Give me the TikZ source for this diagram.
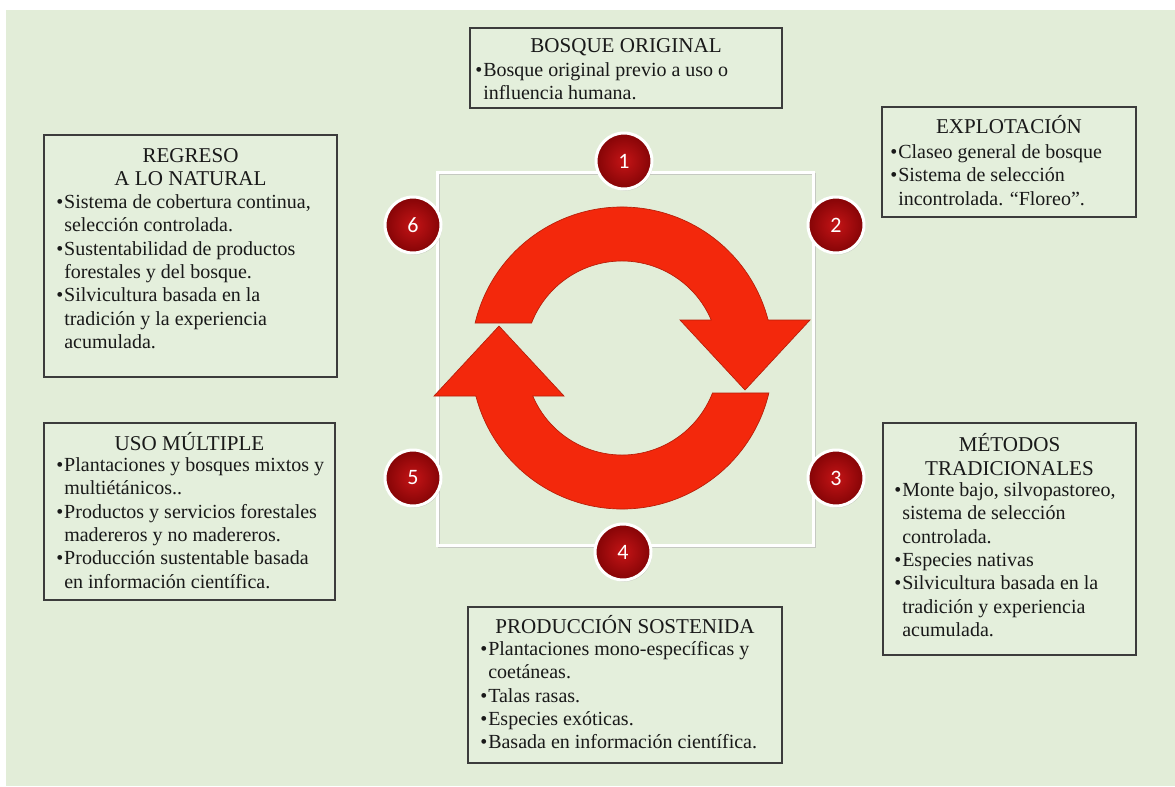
\documentclass[tikz,border=0pt]{standalone}
\usepackage{fontspec}
\setmainfont{Liberation Serif}
\newfontfamily\numfont{Carlito}
\usetikzlibrary{fit,shadows}
\definecolor{bggreen}{RGB}{226,237,216}
\definecolor{boxfill}{RGB}{228,239,220}
\definecolor{boxline}{RGB}{60,60,60}
\definecolor{txt}{RGB}{25,25,25}
\definecolor{arrowred}{RGB}{243,40,12}
\definecolor{circin}{RGB}{196,20,22}
\definecolor{circout}{RGB}{132,4,6}
\newcommand{\bul}{\makebox[6pt][l]{\textbullet}}
\newcommand{\ind}{\hspace*{6pt}}
\tikzset{
 panel/.style={draw=boxline, line width=1.1pt, fill=boxfill, inner sep=0pt},
 ttl/.style={font=\fontsize{15.8}{17.6}\selectfont, text=txt, align=center, inner sep=0pt, anchor=north},
 body/.style={font=\fontsize{15}{17.6}\selectfont, text=txt, align=left, inner sep=0pt, anchor=north west},
 badge/.style={circle, minimum size=42pt, inner sep=0pt, draw=white, line width=2.25pt, inner color=circin, outer color=circout, text=white, font=\numfont\fontsize{16.5}{18}\selectfont, drop shadow={opacity=0.35, shadow xshift=0.8pt, shadow yshift=-1.2pt}},
 cyc/.style={fill=arrowred, draw=arrowred!75!black, line width=0.5pt, line join=miter},
 frame/.style={draw=white, line width=2.25pt, inner sep=0pt},
}
\begin{document}
\begin{tikzpicture}[x=0.75pt,y=-0.75pt]
\useasboundingbox (0,0) rectangle (1175,786);
\fill[white] (0,0) rectangle (1175,786);
\fill[bggreen] (6,10) rectangle (1175,786);

% panels
\node[panel, fit={(470,28) (782,108)}] (b1) {};
\node[panel, fit={(882,107) (1136,217)}] (b2) {};
\node[panel, fit={(883,423) (1136,655)}] (b3) {};
\node[panel, fit={(468,607) (782,763)}] (b4) {};
\node[panel, fit={(44,423) (335,600)}] (b5) {};
\node[panel, fit={(44,135) (337,377)}] (b6) {};

% titles
\node[ttl] (t1) at (626,35.4) {\strut BOSQUE ORIGINAL};
\node[ttl] (t2) at (1009,115.4) {\strut EXPLOTACIÓN};
\node[ttl] (t3) at (1009.5,433.4) {\strut MÉTODOS\\\strut TRADICIONALES};
\node[ttl] (t4) at (625,615.4) {\strut PRODUCCIÓN SOSTENIDA};
\node[ttl] (t5) at (189.5,432.4) {\strut USO MÚLTIPLE};
\node[ttl] (t6) at (190.5,145.4) {\strut REGRESO\\\strut A LO NATURAL};

% bodies
\node[body] (c1) at (475,59.4) {\strut\bul Bosque original previo a uso o\\\strut\ind influencia humana.};
\node[body] (c2) at (890,141.4) {\strut\bul Claseo general de bosque\\\strut\bul Sistema de selección\\\strut\ind incontrolada. “Floreo”.};
\node[body] (c3) at (894,479.4) {\strut\bul Monte bajo, silvopastoreo,\\\strut\ind sistema de selección\\\strut\ind controlada.\\\strut\bul Especies nativas\\\strut\bul Silvicultura basada en la\\\strut\ind tradición y experiencia\\\strut\ind acumulada.};
\node[body] (c4) at (480,638.4) {\strut\bul Plantaciones mono-específicas y\\\strut\ind coetáneas.\\\strut\bul Talas rasas.\\\strut\bul Especies exóticas.\\\strut\bul Basada en información científica.};
\node[body] (c5) at (56,454.4) {\strut\bul Plantaciones y bosques mixtos y\\\strut\ind multiétánicos..\\\strut\bul Productos y servicios forestales\\\strut\ind madereros y no madereros.\\\strut\bul Producción sustentable basada\\\strut\ind en información científica.};
\node[body] (c6) at (56,191.4) {\strut\bul Sistema de cobertura continua,\\\strut\ind selección controlada.\\\strut\bul Sustentabilidad de productos\\\strut\ind forestales y del bosque.\\\strut\bul Silvicultura basada en la\\\strut\ind tradición y la experiencia\\\strut\ind acumulada.};

% central frame
\draw[black!30, line width=2pt, opacity=0.6] (439,174) rectangle (815,547);
\node[frame, fit={(437,172) (813,545)}] (sq) {};

% cycle arrows
\begin{scope}[shift={(622,358)}]
\path[cyc] (166.6:113.25pt) arc[start angle=166.6, end angle=14.58, radius=113.25pt]
  -- (141pt,28.5pt) -- (92.25pt,-24pt) -- (43.5pt,28.5pt)
  -- (23.06:72.75pt) arc[start angle=23.06, end angle=158.85, radius=72.75pt] -- cycle;
\path[cyc, rotate=180] (166.6:113.25pt) arc[start angle=166.6, end angle=14.58, radius=113.25pt]
  -- (141pt,28.5pt) -- (92.25pt,-24pt) -- (43.5pt,28.5pt)
  -- (23.06:72.75pt) arc[start angle=23.06, end angle=158.85, radius=72.75pt] -- cycle;
\end{scope}

% badges
\node[badge] (n1) at (624,161) {1};
\node[badge] (n2) at (836,225) {2};
\node[badge] (n3) at (836,478) {3};
\node[badge] (n4) at (623,552) {4};
\node[badge] (n5) at (413,478) {5};
\node[badge] (n6) at (413,225) {6};
\end{tikzpicture}
\end{document}
